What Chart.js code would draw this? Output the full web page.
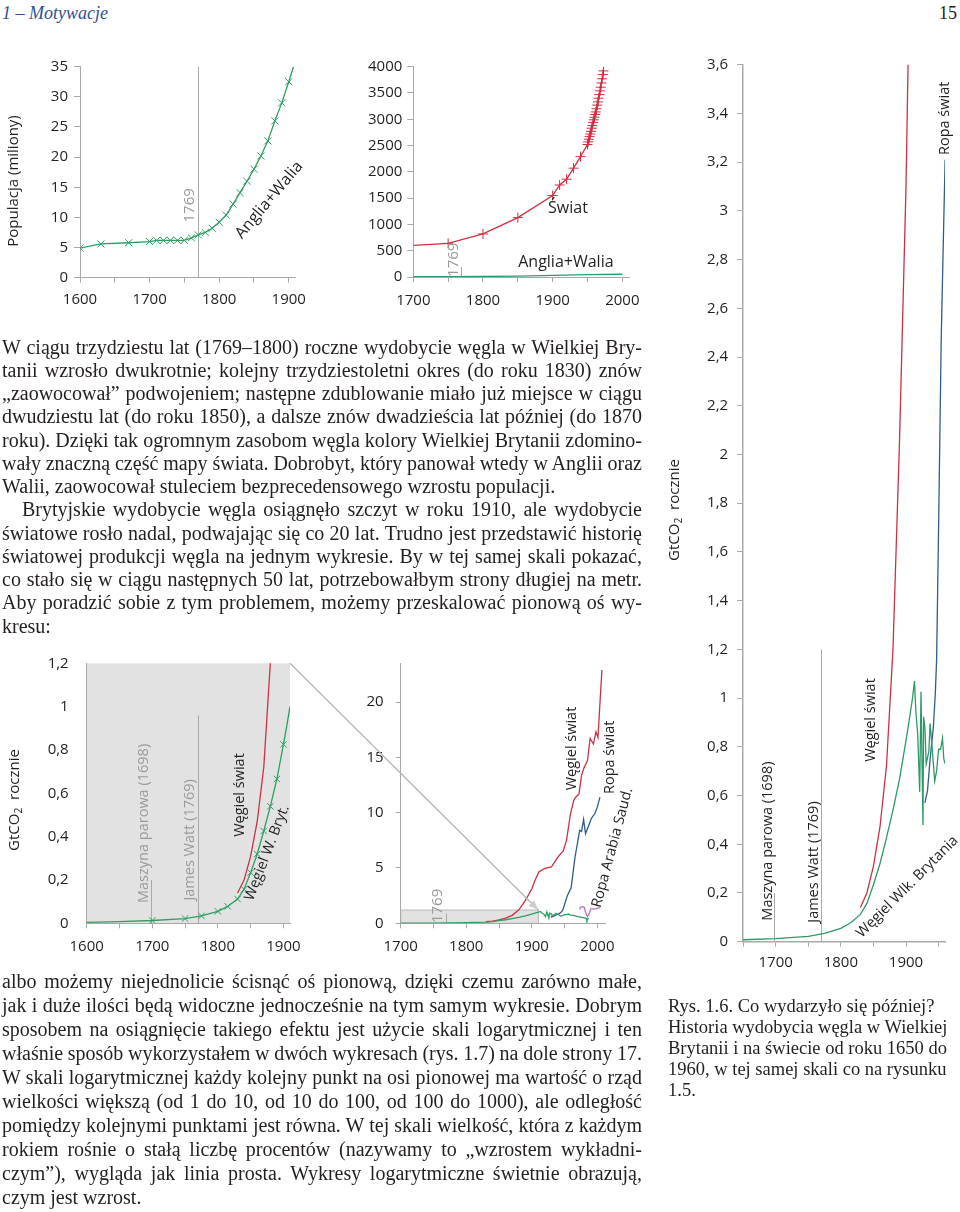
<!DOCTYPE html>
<html lang="pl">
<head>
<meta charset="utf-8">
<script src="https://cdn.jsdelivr.net/npm/chart.js@4.4.1/dist/chart.umd.min.js"></script>
<style>
  body {
    margin: 0;
    width: 960px;
    height: 1212px;
    position: relative;
    overflow: hidden;
    background: #fff;
    color: #231f20;
    font-family: "Liberation Serif", serif;
  }
  canvas { position: absolute; }
  .t {
    position: absolute;
    white-space: nowrap;
    font: 20px/23px "Liberation Serif", serif;
  }
  .cap {
    position: absolute;
    white-space: nowrap;
    font: 18.5px/21px "Liberation Serif", serif;
  }
  #head {
    position: absolute;
    left: 2px;
    top: 1px;
    font: italic 18px/24px "Liberation Serif", serif;
    color: #2f4f9a;
  }
  #page {
    position: absolute;
    right: 3px;
    top: 1px;
    font: 18px/24px "Liberation Serif", serif;
  }
</style>
</head>
<body>

<div id="head">1 – Motywacje</div>
<div id="page">15</div>

<canvas id="c1" width="315" height="280" style="left:0;top:45px"></canvas>
<canvas id="c2" width="310" height="280" style="left:330px;top:45px"></canvas>
<canvas id="c3" width="300" height="930" style="left:660px;top:50px"></canvas>
<canvas id="c4" width="310" height="310" style="left:0;top:650px"></canvas>
<canvas id="c5" width="315" height="310" style="left:330px;top:650px"></canvas>
<canvas id="ov" width="960" height="1212" style="left:0;top:0;pointer-events:none"></canvas>

<script>
/*=========================================================
DATA
=========================================================*/

// Anglia+Walia, populacja (miliony) - wykres lewy górny
const ewYears = [1600, 1630, 1670, 1700, 1710, 1720, 1730, 1740, 1750, 1760, 1770, 1780, 1790, 1800, 1810, 1820, 1830, 1840, 1850, 1860, 1870, 1880, 1890, 1900, 1910];
const ewPop = [4.9, 5.6, 5.8, 6.0, 6.2, 6.2, 6.2, 6.2, 6.2, 6.6, 7.1, 7.5, 8.2, 9.2, 10.4, 12.2, 14.1, 16.0, 18.0, 20.2, 22.7, 26.0, 29.0, 32.5, 36.2];

// Świat, populacja (miliony)
const worldYears = [1700, 1750, 1800, 1850, 1900, 1910, 1920, 1930, 1940, 1950, 1951, 1952, 1953, 1954, 1955, 1956, 1957, 1958, 1959, 1960, 1961, 1962, 1963, 1964, 1965, 1966, 1967, 1968, 1969, 1970, 1971, 1972, 1973];
const worldPop = [600, 640, 820, 1130, 1550, 1750, 1860, 2070, 2290, 2520, 2570, 2620, 2670, 2720, 2770, 2830, 2880, 2940, 2990, 3040, 3090, 3140, 3200, 3270, 3330, 3400, 3470, 3540, 3610, 3690, 3770, 3850, 3920];

// Anglia+Walia na skali świata
const ew2Years = [1700, 1750, 1800, 1850, 1900, 1950, 2000];
const ew2Pop = [6, 6.2, 9.2, 18, 32.5, 44, 52];

// GtCO2 rocznie
const ukCoalYears = [1600, 1650, 1700, 1750, 1775, 1800, 1815, 1830, 1840, 1850, 1860, 1870, 1880, 1890, 1900, 1905, 1910, 1913, 1915, 1918, 1921, 1923, 1926, 1927, 1929, 1931, 1935, 1937, 1940, 1944, 1947, 1950, 1953, 1956, 1958, 1960, 1965, 1970, 1975, 1980, 1983, 1984, 1985, 1987];
const ukCoal = [0.004, 0.008, 0.013, 0.022, 0.034, 0.055, 0.078, 0.112, 0.157, 0.234, 0.32, 0.426, 0.54, 0.666, 0.826, 0.91, 1.0, 1.07, 0.95, 0.85, 0.615, 1.026, 0.479, 0.923, 0.88, 0.73, 0.78, 0.896, 0.8, 0.66, 0.7, 0.79, 0.79, 0.835, 0.75, 0.73, 0.7, 0.6, 0.56, 0.5, 0.45, 0.22, 0.38, 0.45];

const worldCoalYears = [1830, 1840, 1850, 1860, 1870, 1880, 1890, 1900, 1905, 1911, 1920, 1930, 1940, 1948, 1953, 1959, 1964, 1967, 1972, 1976, 1980, 1985, 1989, 1994, 1998, 2001, 2004, 2007];
const worldCoal = [0.14, 0.2, 0.31, 0.47, 0.72, 1.2, 2.05, 3.1, 3.9, 4.66, 4.96, 5.1, 6.0, 6.55, 7.5, 9.9, 11.1, 11.4, 11.7, 13.4, 14.1, 14.7, 16.7, 16.2, 17.3, 16.8, 19.9, 22.9];

const worldOilYears = [1929, 1933, 1937, 1942, 1945, 1947, 1950, 1954, 1960, 1963, 1966, 1969, 1973, 1976, 1979, 1982, 1986, 1991, 1996, 2000, 2004];
const worldOil = [0.57, 0.62, 0.75, 0.88, 1.02, 1.16, 1.7, 2.47, 3.21, 4.6, 6.0, 7.0, 8.4, 8.3, 9.4, 8.1, 8.7, 9.5, 9.9, 10.5, 11.4];

const saudiYears = [1973, 1974, 1978, 1980, 1982, 1985, 1987, 1990, 1994, 1998, 2001, 2004];
const saudiOil = [1.25, 1.45, 1.5, 1.45, 1.0, 0.6, 0.8, 1.3, 1.3, 1.3, 1.4, 1.4];

/*=========================================================
STYLE
=========================================================*/

const GRAY = "#a9a9a9";
const INK = "#231f20";
const GREEN = "#2f9e62";
const RED = "#cf3042";
const BLUE = "#2f5d8c";
const PURPLE = "#b673c4";

Chart.defaults.font.family = "'Open Sans', 'Noto Sans', sans-serif";
Chart.defaults.font.size = 15;
Chart.defaults.color = INK;

function pts(xs, ys) {
  return xs.map((x, i) => ({ x: x, y: ys[i] }));
}

function comma(v) {
  return String(Math.round(v * 10) / 10).replace(".", ",");
}

/*=========================================================
AXES
=========================================================*/

function xAxis(min, max, height, pad, borderWidth) {
  return {
    type: "linear",
    min: min,
    max: max,
    border: { color: GRAY, width: borderWidth || 1 },
    grid: { drawOnChartArea: false, color: GRAY, tickLength: 5 },
    ticks: {
      stepSize: 50,
      includeBounds: false,
      autoSkip: false,
      maxRotation: 0,
      padding: pad,
      callback: (v) => (v % 100 === 0 ? String(v) : ""),
    },
    afterFit: (s) => {
      s.height = height;
      s.paddingLeft = 0;
      s.paddingRight = 0;
    },
  };
}

function yAxis(max, step, width, tickLen, pad, fmt, borderWidth) {
  return {
    min: 0,
    max: max,
    border: { color: GRAY, width: borderWidth || 1 },
    grid: {
      drawOnChartArea: false,
      color: GRAY,
      tickLength: tickLen,
      drawTicks: tickLen > 0,
    },
    ticks: {
      stepSize: step,
      includeBounds: false,
      padding: pad,
      callback: fmt || ((v) => String(v)),
    },
    afterFit: (s) => {
      s.width = width;
      s.paddingTop = 0;
      s.paddingBottom = 0;
    },
  };
}

/*=========================================================
EXTRAS PLUGIN (tło, pionowe linie, podpisy)
=========================================================*/

function drawText(ctx, t, px, py) {
  const size = t.size || 15;
  ctx.save();
  ctx.translate(px, py);
  ctx.rotate(((t.rot || 0) * Math.PI) / 180);
  ctx.fillStyle = t.color || INK;
  ctx.textBaseline = "middle";
  ctx.textAlign = "left";
  const font = (s) => s + "px 'Open Sans', 'Noto Sans', sans-serif";

  ctx.font = font(size);
  const w1 = ctx.measureText(t.text).width;
  let w2 = 0;
  let w3 = 0;
  if (t.sub) {
    ctx.font = font(size * 0.68);
    w2 = ctx.measureText(t.sub).width;
    ctx.font = font(size);
    w3 = ctx.measureText(t.after).width;
  }
  let x = -(w1 + w2 + w3) / 2;
  ctx.fillText(t.text, x, 0);
  if (t.sub) {
    x += w1;
    ctx.font = font(size * 0.68);
    ctx.fillText(t.sub, x, size * 0.28);
    x += w2;
    ctx.font = font(size);
    ctx.fillText(t.after, x, 0);
  }
  ctx.restore();
}

const extras = {
  id: "extras",

  beforeDraw(chart, args, o) {
    const { ctx, chartArea: a, scales } = chart;
    ctx.save();
    if (o.background) {
      ctx.fillStyle = o.background;
      ctx.fillRect(a.left, a.top, a.width, a.height);
    }
    (o.boxes || []).forEach((b) => {
      const x0 = scales.x.getPixelForValue(b.x0);
      const x1 = scales.x.getPixelForValue(b.x1);
      const y0 = scales.y.getPixelForValue(b.y0);
      const y1 = scales.y.getPixelForValue(b.y1);
      ctx.fillStyle = b.fill;
      ctx.fillRect(x0, y1, x1 - x0, y0 - y1);
      ctx.strokeStyle = b.stroke;
      ctx.lineWidth = 1;
      ctx.strokeRect(x0, y1, x1 - x0, y0 - y1);
    });
    ctx.restore();
  },

  beforeDatasetsDraw(chart, args, o) {
    const { ctx, scales } = chart;
    ctx.save();
    (o.marks || []).forEach((m) => {
      const px = Math.round(scales.x.getPixelForValue(m.x)) + 0.5;
      ctx.strokeStyle = m.color || GRAY;
      ctx.lineWidth = 1;
      ctx.beginPath();
      ctx.moveTo(px, scales.y.getPixelForValue(m.y0));
      ctx.lineTo(px, scales.y.getPixelForValue(m.y1));
      ctx.stroke();
    });
    ctx.restore();
  },

  afterDraw(chart, args, o) {
    const { ctx, scales } = chart;
    (o.texts || []).forEach((t) => {
      const px = t.px !== undefined ? t.px : scales.x.getPixelForValue(t.x);
      const py = t.py !== undefined ? t.py : scales.y.getPixelForValue(t.y);
      drawText(ctx, t, px, py);
    });
  },
};

/*=========================================================
CHART FACTORY
=========================================================*/

function createChart(id, datasets, x, y, padding, extraOpts) {
  return new Chart(document.getElementById(id), {
    type: "line",
    data: { datasets: datasets },
    options: {
      responsive: false,
      animation: false,
      devicePixelRatio: 1,
      layout: { padding: padding },
      elements: {
        line: { tension: 0, borderWidth: 1.3 },
        point: { radius: 0, hoverRadius: 0 },
      },
      plugins: {
        legend: { display: false },
        tooltip: { enabled: false },
        extras: extraOpts,
      },
      scales: { x: x, y: y },
    },
    plugins: [extras],
  });
}

function series(xs, ys, color, more) {
  return Object.assign(
    {
      data: pts(xs, ys),
      borderColor: color,
      backgroundColor: color,
      borderWidth: 1.3,
      pointRadius: 0,
    },
    more || {},
  );
}

/*=========================================================
CHART 1 - populacja Anglia+Walia
=========================================================*/

createChart(
  "c1",
  [
    series(ewYears, ewPop, GREEN, {
      pointStyle: "crossRot",
      pointRadius: (c) => (c.dataIndex === ewYears.length - 1 ? 0 : 5),
      pointBorderWidth: 1,
    }),
  ],
  xAxis(1600, 1910, 47.3, 8),
  yAxis(35, 5, 80, 6, 6),
  { top: 21.7, right: 19.3, bottom: 0, left: 0 },
  {
    marks: [{ x: 1769, y0: 0, y1: 35 }],
    texts: [
      { text: "1769", x: 1757, y: 12, rot: -90, color: "#9a9a9a", size: 15 },
      { text: "Anglia+Walia", x: 1872, y: 12.9, rot: -50, size: 16 },
      { text: "Populacja (miliony)", px: 14, py: 136, rot: -90, size: 15 },
    ],
  },
);

/*=========================================================
CHART 2 - populacja świata
=========================================================*/

createChart(
  "c2",
  [
    series(worldYears, worldPop, RED, {
      pointStyle: "cross",
      pointRadius: (c) => (c.dataIndex === 0 ? 0 : 5),
      pointBorderWidth: 1,
    }),
    series(ew2Years, ew2Pop, "#2b9a74"),
  ],
  xAxis(1700, 2010, 48, 10),
  yAxis(4000, 500, 83.3, 6, 5),
  { top: 21.7, right: 10.7, bottom: 0, left: 0 },
  {
    marks: [{ x: 1769, y0: 0, y1: 190 }],
    texts: [
      { text: "Świat", x: 1922, y: 1308, size: 16 },
      { text: "Anglia+Walia", x: 1919, y: 284, size: 16 },
      { text: "1769", x: 1758, y: 328, rot: -90, color: "#9a9a9a", size: 15 },
    ],
  },
);

/*=========================================================
CHART 3 - węgiel i ropa 1650-1960
=========================================================*/

createChart(
  "c3",
  [
    series(ukCoalYears, ukCoal, "#2c9a64"),
    series(worldCoalYears, worldCoal, RED),
    series(worldOilYears, worldOil, BLUE),
  ],
  xAxis(1650, 1960, 38.3, 7, 1.5),
  yAxis(3.6, 0.2, 83.1, 6, 9, comma, 1.5),
  { top: 14.7, right: 14.9, bottom: 0, left: 0 },
  {
    marks: [
      { x: 1698, y0: 0, y1: 0.2 },
      { x: 1769, y0: 0, y1: 1.2 },
    ],
    texts: [
      { text: "Maszyna parowa (1698)", x: 1688, y: 0.413, rot: -90, size: 14.5 },
      { text: "James Watt (1769)", x: 1759, y: 0.327, rot: -90, size: 14.5 },
      { text: "Węgiel świat", x: 1846, y: 0.91, rot: -90, size: 14.5 },
      { text: "Ropa świat", x: 1960, y: 3.38, rot: -90, size: 14.5 },
      { text: "Węgiel Wlk. Brytania", x: 1902, y: 0.225, rot: -45, size: 14.5 },
      { text: "GtCO", sub: "2", after: "  rocznie", px: 15, py: 460, rot: -90, size: 15 },
    ],
  },
);

/*=========================================================
CHART 4 - zbliżenie 1600-1910
=========================================================*/

const c4 = createChart(
  "c4",
  [
    series(ukCoalYears, ukCoal, GREEN, {
      pointStyle: "crossRot",
      pointRadius: (c) => (c.raw.x >= 1700 && c.raw.x <= 1900 ? 4.5 : 0),
      pointBorderWidth: 1,
    }),
    series(worldCoalYears, worldCoal, RED),
  ],
  xAxis(1600, 1910, 36.7, 9),
  yAxis(1.2, 0.2, 86.7, 0, 18, comma),
  { top: 13.3, right: 20, bottom: 0, left: 0 },
  {
    background: "#e2e2e2",
    marks: [
      { x: 1698, y0: 0, y1: 0.2 },
      { x: 1769, y0: 0, y1: 0.96 },
    ],
    texts: [
      { text: "Maszyna parowa (1698)", x: 1687.4, y: 0.461, rot: -90, color: "#9a9a9a", size: 14.5 },
      { text: "James Watt (1769)", x: 1757.7, y: 0.385, rot: -90, color: "#9a9a9a", size: 14.5 },
      { text: "Węgiel świat", x: 1834, y: 0.592, rot: -90, size: 14.5 },
      { text: "Węgiel W. Bryt.", x: 1875, y: 0.325, rot: -69, size: 14.5 },
      { text: "GtCO", sub: "2", after: "  rocznie", px: 15, py: 150, rot: -90, size: 15 },
    ],
  },
);

/*=========================================================
CHART 5 - 1700-2007
=========================================================*/

const c5 = createChart(
  "c5",
  [
    series(ukCoalYears, ukCoal, GREEN),
    series(saudiYears, saudiOil, PURPLE),
    series(worldOilYears, worldOil, BLUE),
    series(worldCoalYears, worldCoal, RED),
  ],
  xAxis(1700, 2012, 36.7, 9),
  yAxis(23.5, 5, 70.7, 5, 12),
  { top: 13.3, right: 39.8, bottom: 0, left: 0 },
  {
    boxes: [{ x0: 1700, x1: 1910, y0: 0, y1: 1.2, fill: "#e2e2e2", stroke: "#b8b8b8" }],
    marks: [{ x: 1769, y0: 0, y1: 0.9 }],
    texts: [
      { text: "Węgiel świat", x: 1961, y: 15.8, rot: -90, size: 14.5 },
      { text: "Ropa świat", x: 2019.4, y: 15.0, rot: -90, size: 14.5 },
      { text: "Ropa Arabia Saud.", x: 2023, y: 6.84, rot: -75, size: 14.5 },
      { text: "1769", x: 1757, y: 1.57, rot: -90, color: "#9a9a9a", size: 15 },
    ],
  },
);

/*=========================================================
CONNECTOR (szary prostokąt -> powiększenie)
=========================================================*/

function cornerOf(chart) {
  const cv = chart.canvas;
  return {
    x: cv.offsetLeft + chart.scales.x.getPixelForValue(1910),
    y: cv.offsetTop + chart.scales.y.getPixelForValue(1.2),
  };
}

const ov = document.getElementById("ov").getContext("2d");
const p0 = cornerOf(c4);
const p1 = cornerOf(c5);
ov.strokeStyle = "#b3b3b3";
ov.lineWidth = 1.2;
ov.beginPath();
ov.moveTo(p0.x, p0.y);
ov.lineTo(p1.x, p1.y);
ov.stroke();

const ang = Math.atan2(p1.y - p0.y, p1.x - p0.x);
ov.fillStyle = "#cdcdcd";
ov.beginPath();
ov.moveTo(p1.x, p1.y);
ov.lineTo(p1.x - 10 * Math.cos(ang) + 4 * Math.sin(ang), p1.y - 10 * Math.sin(ang) - 4 * Math.cos(ang));
ov.lineTo(p1.x - 10 * Math.cos(ang) - 4 * Math.sin(ang), p1.y - 10 * Math.sin(ang) + 4 * Math.cos(ang));
ov.closePath();
ov.fill();

/*=========================================================
TEXT
=========================================================*/

const para1 = [
  "W ciągu trzydziestu lat (1769–1800) roczne wydobycie węgla w Wielkiej Bry-",
  "tanii wzrosło dwukrotnie; kolejny trzydziestoletni okres (do roku 1830) znów",
  "„zaowocował” podwojeniem; następne zdublowanie miało już miejsce w ciągu",
  "dwudziestu lat (do roku 1850), a dalsze znów dwadzieścia lat później (do 1870",
  "roku). Dzięki tak ogromnym zasobom węgla kolory Wielkiej Brytanii zdomino-",
  "wały znaczną część mapy świata. Dobrobyt, który panował wtedy w Anglii oraz",
  "Walii, zaowocował stuleciem bezprecedensowego wzrostu populacji.",
];

const para2 = [
  "Brytyjskie wydobycie węgla osiągnęło szczyt w roku 1910, ale wydobycie",
  "światowe rosło nadal, podwajając się co 20 lat. Trudno jest przedstawić historię",
  "światowej produkcji węgla na jednym wykresie. By w tej samej skali pokazać,",
  "co stało się w ciągu następnych 50 lat, potrzebowałbym strony długiej na metr.",
  "Aby poradzić sobie z tym problemem, możemy przeskalować pionową oś wy-",
  "kresu:",
];

const para3 = [
  "albo możemy niejednolicie ścisnąć oś pionową, dzięki czemu zarówno małe,",
  "jak i duże ilości będą widoczne jednocześnie na tym samym wykresie. Dobrym",
  "sposobem na osiągnięcie takiego efektu jest użycie skali logarytmicznej i ten",
  "właśnie sposób wykorzystałem w dwóch wykresach (rys. 1.7) na dole strony 17.",
  "W skali logarytmicznej każdy kolejny punkt na osi pionowej ma wartość o rząd",
  "wielkości większą (od 1 do 10, od 10 do 100, od 100 do 1000), ale odległość",
  "pomiędzy kolejnymi punktami jest równa. W tej skali wielkość, która z każdym",
  "rokiem rośnie o stałą liczbę procentów (nazywamy to „wzrostem wykładni-",
  "czym”), wygląda jak linia prosta. Wykresy logarytmiczne świetnie obrazują,",
  "czym jest wzrost.",
];

const caption = [
  "Rys. 1.6. Co wydarzyło się później?",
  "Historia wydobycia węgla w Wielkiej",
  "Brytanii i na świecie od roku 1650 do",
  "1960, w tej samej skali co na rysunku",
  "1.5.",
];

function placeLines(lines, o) {
  lines.forEach((s, i) => {
    const el = document.createElement("span");
    el.className = o.cls;
    el.textContent = s;
    const indent = i === 0 && o.indent ? o.indent : 0;
    el.style.left = o.left + indent + "px";
    el.style.top = o.top + i * o.step + "px";
    document.body.appendChild(el);

    if (o.justify && i < lines.length - 1) {
      const w = el.getBoundingClientRect().width;
      const n = (s.match(/ /g) || []).length;
      if (n) el.style.wordSpacing = (o.width - indent - w) / n + "px";
    }
  });
}

placeLines(para1, { cls: "t", left: 2, top: 335.5, step: 23.25, width: 640, justify: true });
placeLines(para2, { cls: "t", left: 2, top: 335.5 + 7 * 23.25, step: 23.25, width: 640, indent: 20, justify: true });
placeLines(para3, { cls: "t", left: 2, top: 969.5, step: 24, width: 640, justify: true });
placeLines(caption, { cls: "cap", left: 668, top: 995.5, step: 21, width: 290, justify: false });
</script>
</body>
</html>
